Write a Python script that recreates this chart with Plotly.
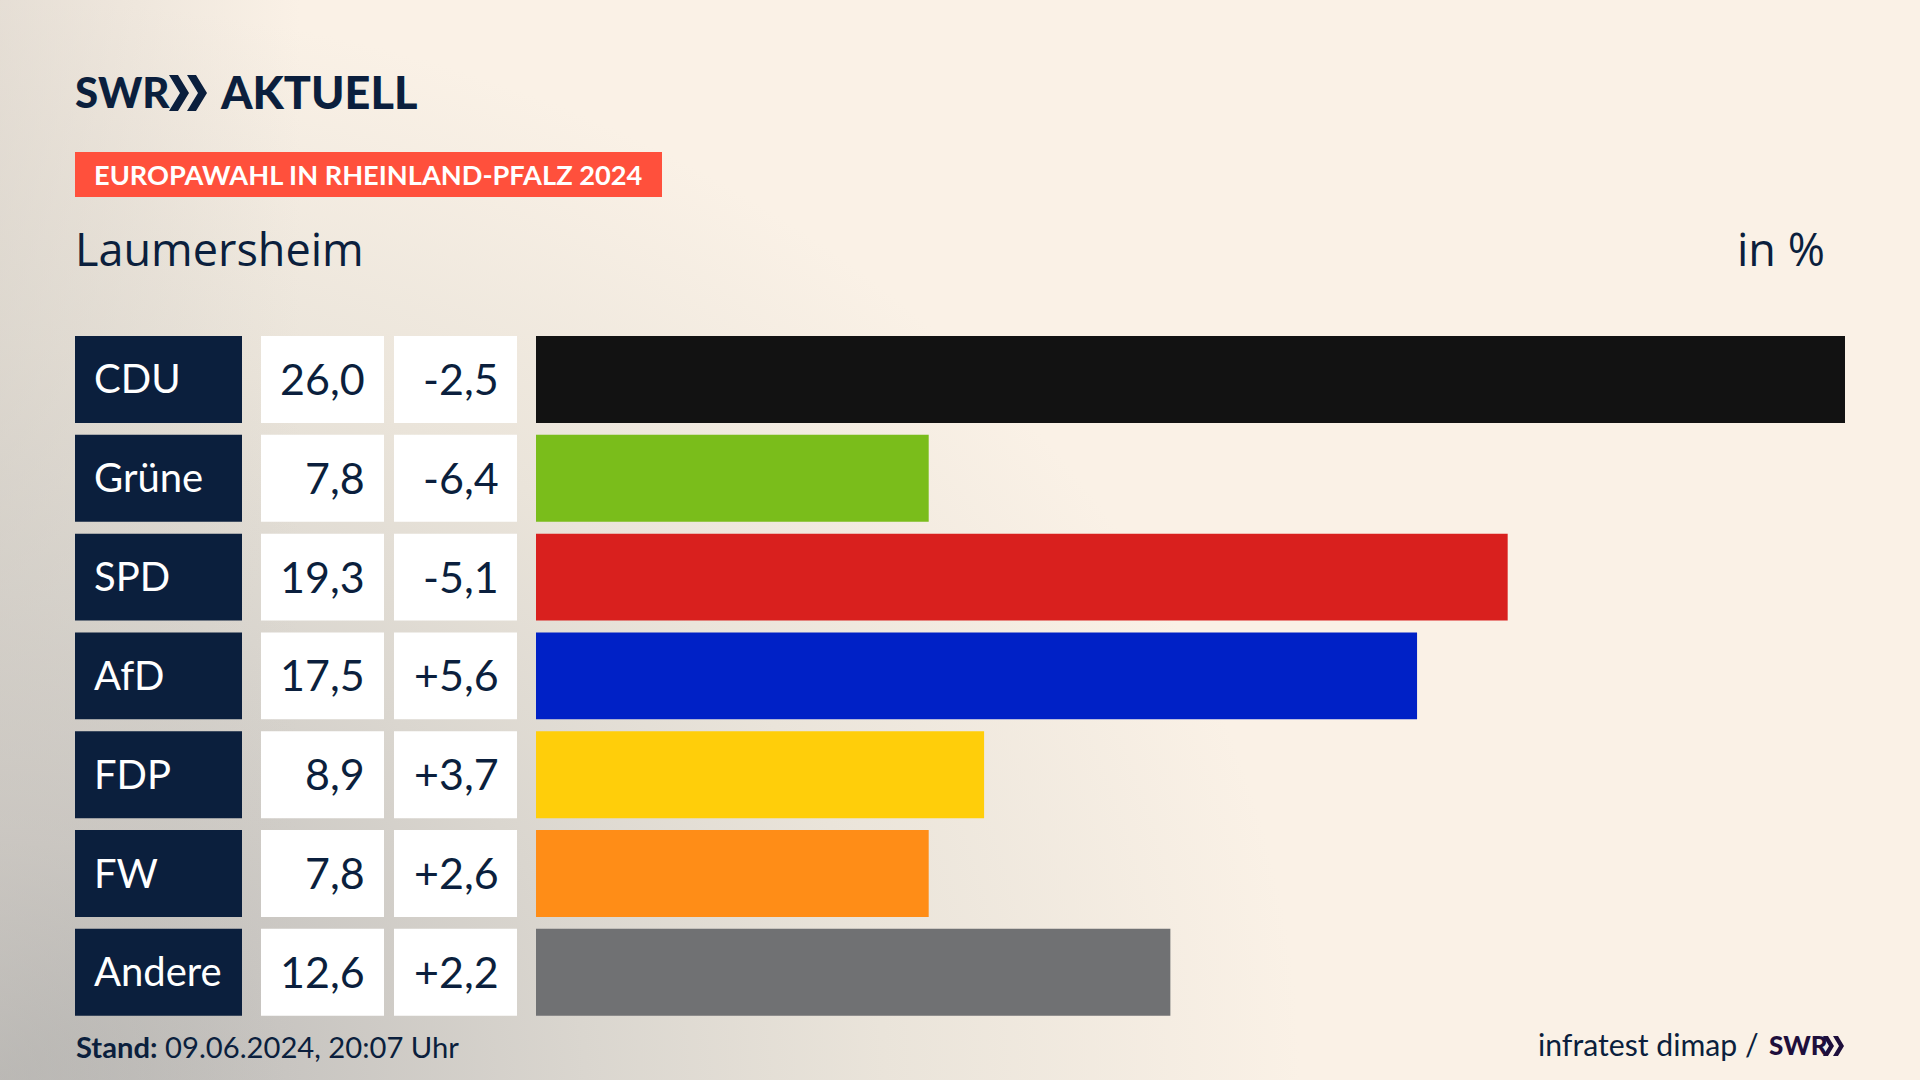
import plotly.graph_objects as go

# Europawahl RLP 2024, Laumersheim
parteien = ['CDU', 'Grüne', 'SPD', 'AfD', 'FDP', 'FW', 'Andere']
ergebnis = [26.0, 7.8, 19.3, 17.5, 8.9, 7.8, 12.6]
ergebnis_text = ['26,0', '7,8', '19,3', '17,5', '8,9', '7,8', '12,6']
differenz_text = ['-2,5', '-6,4', '-5,1', '+5,6', '+3,7', '+2,6', '+2,2']
farben = ['#121212', '#7ABD1B', '#D9201E', '#0021C6', '#FFCE0A', '#FF8D17', '#707173']

BREITE = 1920
HOEHE = 1080
NAVY = '#0B1F3D'
LILA = '#1E0F3C'
SCHRIFT = 'Lato'


def px_x(x):
    return x / BREITE


def px_y(y):
    return 1 - y / HOEHE


def chevron(x, top, bottom, dicke, spitze, farbe=NAVY):
    mitte = (top + bottom) / 2
    punkte = [(x, top), (x + dicke, top), (x + dicke + spitze, mitte),
              (x + dicke, bottom), (x, bottom), (x + spitze, mitte)]
    pfad = 'M ' + ' L '.join(f'{px_x(a):.5f},{px_y(b):.5f}' for a, b in punkte) + ' Z'
    return dict(type='path', xref='paper', yref='paper', path=pfad, fillcolor=farbe, line_width=0)


fig = go.Figure()

# Zellen links (Partei, Ergebnis, Differenz) als Balken auf eigenen Achsen
for achse, farbe in [('x2', NAVY), ('x3', 'white'), ('x4', 'white')]:
    fig.add_trace(go.Bar(x=[1] * len(parteien), y=parteien, orientation='h', xaxis=achse, yaxis='y',
                         marker=dict(color=farbe, line_width=0), hoverinfo='skip'))

fig.add_trace(go.Bar(x=ergebnis, y=parteien, orientation='h', xaxis='x', yaxis='y',
                     marker=dict(color=farben, line_width=0)))

annotations = []
for i, partei in enumerate(parteien):
    annotations.append(dict(xref='x2', yref='y', x=0, y=partei, text=partei, xanchor='left', xshift=16.5, yshift=1,
                            showarrow=False, font=dict(size=40, color='white', family=SCHRIFT)))
    annotations.append(dict(xref='x3', yref='y', x=1, y=partei, text=ergebnis_text[i], xanchor='right', xshift=-17,
                            yshift=1, showarrow=False, font=dict(size=43, color=NAVY, family=SCHRIFT)))
    annotations.append(dict(xref='x4', yref='y', x=1, y=partei, text=differenz_text[i], xanchor='right', xshift=-16,
                            yshift=1, showarrow=False, font=dict(size=43, color=NAVY, family=SCHRIFT)))


def text_px(x, y, text, size, farbe=NAVY, anchor='left', familie=SCHRIFT, weight='normal'):
    annotations.append(dict(xref='paper', yref='paper', x=px_x(x), y=px_y(y), text=text, xanchor=anchor,
                            yanchor='middle', showarrow=False,
                            font=dict(size=size, color=farbe, family=familie, weight=weight)))


text_px(73, 92, 'SWR', 42, weight=900)
text_px(218, 92, 'AKTUELL', 45, weight=900)
text_px(91.5, 175, 'EUROPAWAHL IN RHEINLAND-PFALZ 2024', 27.2, farbe='white', weight=700)
text_px(72.5, 248, 'Laumersheim', 45, familie='Open Sans')
text_px(1827, 248, 'in %', 45, anchor='right', familie='Open Sans')
text_px(73.5, 1046, '<b>Stand:</b> 09.06.2024, 20:07 Uhr', 29.2)
text_px(1761, 1044, 'infratest dimap /', 30.2, anchor='right')
text_px(1767, 1045, 'SWR', 26, farbe=LILA, weight=900)

shapes = [
    dict(type='rect', xref='paper', yref='paper', x0=px_x(75), x1=px_x(662), y0=px_y(197), y1=px_y(152),
         fillcolor='#FF503C', line_width=0, layer='below'),
    chevron(169, 75, 111, 9, 11),
    chevron(187, 75, 111, 9, 11),
    chevron(1823, 1036, 1056, 5, 6, LILA),
    chevron(1833, 1036, 1056, 5, 6, LILA),
]

achse_aus = dict(visible=False, showgrid=False, zeroline=False, fixedrange=True)

fig.update_layout(
    width=BREITE,
    height=HOEHE,
    margin=dict(l=0, r=0, t=0, b=0),
    paper_bgcolor='rgba(0,0,0,0)',
    plot_bgcolor='rgba(0,0,0,0)',
    showlegend=False,
    barmode='overlay',
    bargap=0.12,
    xaxis=dict(domain=[px_x(536), px_x(1845)], range=[0, 26], anchor='y', **achse_aus),
    xaxis2=dict(domain=[px_x(75), px_x(242)], range=[0, 1], anchor='y', **achse_aus),
    xaxis3=dict(domain=[px_x(261), px_x(384)], range=[0, 1], anchor='y', **achse_aus),
    xaxis4=dict(domain=[px_x(394), px_x(517)], range=[0, 1], anchor='y', **achse_aus),
    yaxis=dict(domain=[px_y(1021.7), px_y(330.1)], range=[6.5, -0.5], type='category',
               categoryorder='array', categoryarray=parteien, **achse_aus),
    annotations=annotations,
    shapes=shapes,
)

# Hintergrund mit Verlauf kommt per CSS, Plotly kann das nicht selbst
verlauf = ("document.body.style.margin='0';"
           "document.body.style.background='linear-gradient(90deg,rgba(205,200,193,0.45) 0px,rgba(205,200,193,0) 300px),"
           "radial-gradient(ellipse 1300px 1080px at 0% 100%,"
           "#ACACAB 0%,#C8C5C1 22%,#DAD6CF 45%,#EAE4DA 68%,#FAF1E6 100%)';"
           "document.body.style.minHeight='1080px';")

fig.write_html("out.html", post_script=verlauf, config=dict(displayModeBar=False))
